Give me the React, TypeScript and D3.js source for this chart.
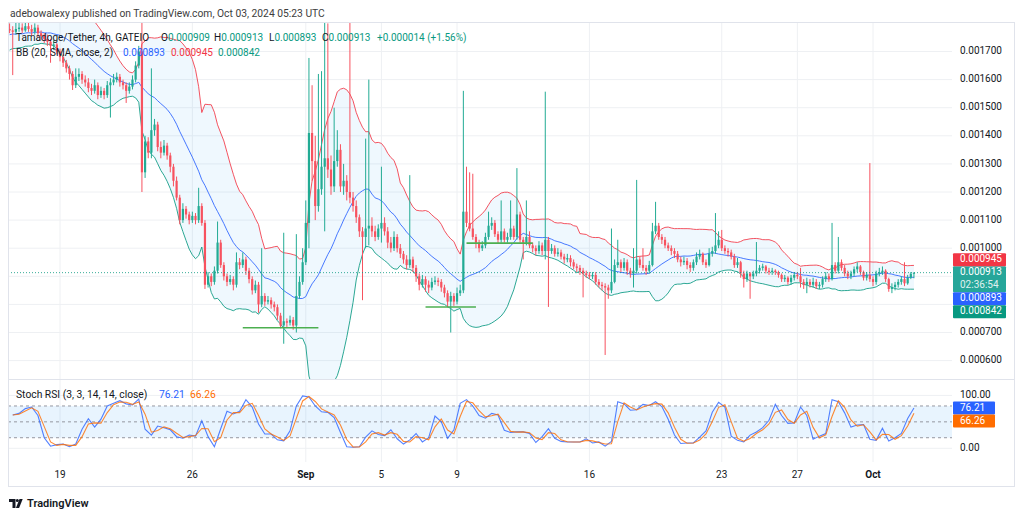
import * as React from "react"
import * as d3 from "d3"

// prices are stored in units of 0.000001 USDT
const START = Date.UTC(2024, 7, 16, 8)
const BAR_MS = 4 * 3600 * 1000

const firstOpen = 1780
// closes before the first visible bar, only used to seed the 20 bar bands
const warmupCloses = [1720, 1790, 1740, 1800, 1730, 1760, 1795, 1725, 1770, 1735, 1800, 1745, 1720, 1785, 1760, 1730, 1790, 1750, 1775]

const closes = [
  1775, 1770, 1780, 1785, 1775, 1790, 1780, 1770, 1785, 1765, 1755, 1745, 1735, 1720, 1725, 1700, 1680, 1660, 1640, 1620,
  1580, 1610, 1620, 1600, 1590, 1570, 1560, 1580, 1545, 1560, 1545, 1580, 1590, 1600, 1610, 1590, 1580, 1560, 1575, 1600,
  1650, 1700, 1270, 1380, 1340, 1420, 1440, 1360, 1340, 1365, 1330, 1290, 1240, 1180, 1100, 1140, 1120, 1100, 1115, 1100,
  1150, 1090, 870, 900, 880, 920, 1020, 940, 900, 880, 890, 870, 950, 940, 960, 920, 890, 850, 870, 800,
  830, 810, 815, 800, 790, 760, 725, 740, 735, 745, 725, 830, 880, 950, 1090, 1410, 1310, 1150, 1210, 1290,
  1320, 1280, 1220, 1310, 1350, 1220, 1240, 1200, 1180, 1150, 1110, 1060, 1040, 1070, 1080, 1060, 1040, 1070, 1090, 1060,
  1020, 1000, 1040, 1000, 980, 960, 940, 960, 930, 900, 870, 890, 870, 860, 880, 885, 880, 860, 840, 810,
  830, 810, 840, 850, 1130, 1090, 1070, 1040, 1020, 1000, 1010, 1040, 1080, 1090, 1050, 1030, 1060, 1030, 1040, 1070,
  1040, 1120, 1030, 1020, 1040, 1010, 1000, 990, 1010, 990, 1030, 990, 1000, 980, 985, 970, 960, 965, 950, 935,
  930, 920, 910, 905, 900, 905, 880, 870, 865, 860, 850, 880, 940, 950, 930, 950, 920, 910, 920, 960,
  940, 930, 920, 940, 1060, 1080, 1040, 1030, 1010, 1000, 990, 980, 960, 950, 955, 940, 930, 950, 970, 980,
  950, 940, 980, 990, 1010, 1030, 1000, 990, 985, 970, 940, 950, 910, 890, 910, 900, 910, 920, 930, 935,
  920, 915, 920, 915, 905, 890, 895, 880, 895, 905, 900, 880, 870, 880, 870, 880, 865, 870, 890, 900,
  890, 940, 920, 950, 930, 910, 900, 910, 925, 935, 915, 895, 905, 890, 880, 910, 915, 920, 890, 855,
  862, 870, 880, 890, 875, 895, 909, 913,
]

const highs = [
  1800, 1790, 1805, 1810, 1800, 1815, 1810, 1795, 1800, 1795, 1775, 1765, 1760, 1745, 1740, 1730, 1710, 1690, 1670, 1650,
  1630, 1640, 1640, 1630, 1615, 1605, 1585, 1600, 1590, 1575, 1570, 1595, 1605, 1620, 1625, 1620, 1600, 1590, 1590, 1615,
  1665, 1720, 1810, 1400, 1395, 1640, 1460, 1450, 1380, 1385, 1375, 1340, 1300, 1255, 1190, 1160, 1150, 1130, 1130, 1125,
  1215, 1160, 1100, 915, 910, 935, 1095, 1030, 950, 910, 905, 900, 985, 965, 985, 970, 930, 900, 885, 880,
  1000, 840, 830, 825, 810, 800, 770, 1055, 750, 760, 755, 1050, 900, 1000, 1170, 1677, 1580, 1400, 1620, 1630,
  1810, 1800, 1330, 1500, 1420, 1370, 1300, 1260, 1820, 1200, 1170, 1120, 1075, 1390, 1600, 1110, 1080, 1085, 1290, 1110,
  1075, 1040, 1060, 1050, 1015, 990, 975, 1260, 970, 940, 910, 905, 900, 885, 895, 900, 895, 890, 870, 850,
  845, 840, 860, 870, 1560, 1290, 1270, 1265, 1050, 1030, 1025, 1055, 1130, 1110, 1100, 1060, 1170, 1070, 1055, 1170,
  1080, 1285, 1130, 1040, 1170, 1060, 1020, 1010, 1025, 1020, 1557, 1040, 1015, 1010, 1000, 995, 980, 980, 975, 960,
  945, 940, 930, 920, 915, 915, 915, 890, 880, 875, 870, 1070, 960, 1030, 960, 965, 960, 930, 1000, 1243,
  970, 1000, 940, 955, 1090, 1165, 1090, 1050, 1040, 1020, 1010, 1000, 990, 970, 970, 965, 950, 960, 985, 995,
  985, 960, 1000, 1005, 1125, 1060, 1065, 1010, 1000, 995, 980, 965, 955, 920, 920, 915, 920, 1022, 940, 945,
  940, 930, 930, 925, 920, 910, 905, 900, 905, 915, 915, 930, 890, 895, 890, 895, 890, 880, 900, 915,
  910, 1090, 950, 1040, 960, 940, 920, 920, 935, 950, 940, 920, 915, 1303, 900, 920, 930, 935, 925, 895,
  875, 880, 890, 900, 950, 905, 915, 913,
]

const lows = [
  1765, 1616, 1760, 1770, 1765, 1770, 1770, 1755, 1760, 1750, 1740, 1730, 1720, 1660, 1705, 1690, 1665, 1645, 1625, 1600,
  1563, 1570, 1595, 1585, 1575, 1555, 1545, 1550, 1530, 1535, 1530, 1535, 1465, 1580, 1590, 1575, 1565, 1517, 1550, 1565,
  1590, 1640, 1200, 1250, 1320, 1320, 1400, 1345, 1320, 1330, 1315, 1270, 1220, 1170, 1085, 1090, 1105, 1085, 1090, 1085,
  1090, 1080, 855, 860, 865, 870, 910, 930, 885, 865, 870, 850, 860, 925, 930, 905, 875, 835, 840, 770,
  790, 795, 800, 785, 775, 745, 715, 660, 720, 725, 710, 700, 820, 870, 940, 1000, 1240, 1100, 1130, 1190,
  1060, 1250, 1190, 1200, 1290, 1200, 1190, 1170, 1160, 1130, 1090, 1040, 815, 1000, 1010, 1040, 1025, 1030, 1020, 1045,
  1000, 985, 990, 985, 965, 945, 925, 930, 915, 880, 850, 860, 845, 840, 850, 870, 865, 845, 825, 790,
  700, 795, 800, 830, 840, 1075, 1060, 1030, 1000, 985, 990, 1000, 1030, 1065, 1040, 1015, 1020, 1020, 1020, 1030,
  1030, 1030, 1020, 960, 1010, 1000, 985, 975, 980, 975, 960, 791, 980, 970, 970, 960, 945, 950, 935, 925,
  915, 905, 825, 895, 890, 890, 870, 860, 850, 620, 820, 840, 875, 930, 915, 920, 905, 895, 860, 910,
  930, 920, 905, 910, 935, 1050, 1030, 1015, 1000, 990, 975, 965, 950, 935, 940, 925, 915, 920, 940, 960,
  940, 930, 935, 970, 980, 1000, 990, 980, 970, 960, 930, 930, 895, 860, 880, 820, 890, 900, 910, 920,
  910, 905, 905, 905, 895, 880, 880, 870, 870, 885, 890, 860, 855, 840, 860, 860, 855, 855, 860, 880,
  880, 885, 910, 910, 920, 900, 890, 890, 900, 915, 905, 885, 885, 880, 865, 870, 900, 905, 880, 845,
  840, 850, 860, 870, 865, 870, 890, 893,
]

// Stoch RSI %K, one value every second bar, the last one on the last bar
const stochK = [
  63, 66, 75, 78, 62, 20, 4, 7, 8, 3, 8, 36, 56, 40, 55, 80, 85, 90, 84, 82,
  93, 36, 25, 42, 39, 35, 22, 19, 25, 23, 52, 22, 3, 37, 70, 65, 70, 92, 78, 46,
  27, 27, 16, 14, 33, 80, 99, 97, 80, 69, 68, 58, 30, 3, 2, 3, 21, 33, 26, 24,
  35, 18, 8, 16, 28, 12, 20, 61, 50, 19, 35, 85, 92, 80, 62, 57, 66, 63, 34, 30,
  31, 31, 28, 11, 22, 37, 19, 13, 12, 12, 12, 18, 10, 12, 4, 13, 88, 84, 72, 73,
  83, 81, 88, 79, 55, 25, 9, 10, 10, 21, 33, 68, 87, 78, 23, 15, 12, 25, 31, 39,
  53, 83, 62, 47, 48, 78, 62, 17, 23, 28, 92, 88, 67, 40, 44, 45, 17, 15, 38, 14,
  20, 28, 56.31, 76.21,
]

const priceTicks = [600, 700, 800, 900, 1000, 1100, 1200, 1300, 1400, 1500, 1600, 1700]
const dateTicks: [number, string, boolean][] = [
  [Date.UTC(2024, 7, 19), "19", false],
  [Date.UTC(2024, 7, 26), "26", false],
  [Date.UTC(2024, 8, 1), "Sep", true],
  [Date.UTC(2024, 8, 5), "5", false],
  [Date.UTC(2024, 8, 9), "9", false],
  [Date.UTC(2024, 8, 16), "16", false],
  [Date.UTC(2024, 8, 23), "23", false],
  [Date.UTC(2024, 8, 27), "27", false],
  [Date.UTC(2024, 9, 1), "Oct", true],
]

// horizontal lines drawn by the author: [first bar, last bar, price]
const levelLines: [number, number, number][] = [
  [74, 98, 717],
  [132, 148, 791],
  [145, 166, 1018],
]

const header = "adebowalexy published on TradingView.com, Oct 03, 2024 05:23 UTC"
const FONT = "Roboto, 'Noto Sans', sans-serif"
const UP = "#22ab94"
const DOWN = "#f7525f"
const BLUE = "#2962ff"
const RED = "#f23645"
const TEAL = "#089981"
const ORANGE = "#ff6d00"

const fmt = (v: number) => (v / 1e6).toFixed(6)

export default function App() {
  const left = 8
  const right = 1015
  const plotRight = 952
  const top = 22
  const mainBottom = 379
  const stochBottom = 462
  const bottom = 487

  const x = d3
    .scaleUtc()
    .domain([new Date(Date.UTC(2024, 7, 19)), new Date(Date.UTC(2024, 9, 1))])
    .range([60, 873])
  const y = d3.scaleLinear().domain([600, 1700]).range([360.6, 51.5])
  const ys = d3.scaleLinear().domain([0, 100]).range([448.3, 395.4])

  const barX = (i: number) => x(new Date(START + i * BAR_MS))

  const bars = closes.map((c, i) => ({
    i,
    o: i === 0 ? firstOpen : closes[i - 1],
    h: highs[i],
    l: lows[i],
    c,
  }))

  const allCloses = [...warmupCloses, ...closes]
  const bands = closes.map((_c, i) => {
    const win = allCloses.slice(i, i + 20)
    const mean = d3.mean(win) as number
    const sd = Math.sqrt(d3.mean(win, (v) => (v - mean) ** 2) as number)
    return { i, basis: mean, upper: mean + 2 * sd, lower: mean - 2 * sd }
  })

  const bandArea = d3
    .area<(typeof bands)[0]>()
    .x((d) => barX(d.i))
    .y0((d) => y(d.lower))
    .y1((d) => y(d.upper))
  const bandLine = (key: "basis" | "upper" | "lower") =>
    d3
      .line<(typeof bands)[0]>()
      .x((d) => barX(d.i))
      .y((d) => y(d[key]))(bands) as string

  // %D: average of the last two 8h samples (about the 3 bar SMA of %K)
  const stoch = stochK.map((k, j) => ({
    i: 2 * j + 1,
    k,
    d: j === 0 ? k : (stochK[j - 1] + k) / 2,
  }))
  const kLine = d3
    .line<(typeof stoch)[0]>()
    .x((d) => barX(d.i))
    .y((d) => ys(d.k))(stoch) as string
  const dLine = d3
    .line<(typeof stoch)[0]>()
    .x((d) => barX(d.i))
    .y((d) => ys(d.d))(stoch) as string

  const last = bars[bars.length - 1]
  const lastBand = bands[bands.length - 1]
  const lastK = stoch[stoch.length - 1]

  // right axis price labels, stacked around the current price label
  const boxH = 13
  const curY = y(last.c)
  const curTop = curY - boxH / 2
  const curBottom = curTop + boxH * 2
  const above = [{ v: lastBand.upper, label: "0.000945", fill: RED }]
  const below = [
    { v: lastBand.basis, label: "0.000893", fill: BLUE },
    { v: lastBand.lower, label: "0.000842", fill: TEAL },
  ]
  const boxes: { cy: number; label: string; fill: string }[] = []
  let edge = curTop
  above.forEach((b) => {
    const cy = Math.min(y(b.v), edge - boxH / 2)
    boxes.push({ cy, label: b.label, fill: b.fill })
    edge = cy - boxH / 2
  })
  const boxTop = edge
  edge = curBottom
  below.forEach((b) => {
    const cy = Math.max(y(b.v), edge + boxH / 2)
    boxes.push({ cy, label: b.label, fill: b.fill })
    edge = cy + boxH / 2
  })
  const boxBottom = edge
  // tick labels hidden behind the price boxes
  const visibleTicks = priceTicks.filter((p) => y(p) < boxTop - 1 || y(p) > boxBottom + 5)

  const kY = ys(lastK.k)
  const dY = Math.max(ys(lastK.d), kY + boxH)

  const bw = 2.2

  return (
    <svg
      width={1024}
      height={517}
      style={{ position: "absolute", left: 0, top: 0, background: "#fff" }}
      fontFamily={FONT}
    >
      <defs>
        <clipPath id="mainClip">
          <rect x={left} y={top} width={plotRight - left} height={mainBottom - top} />
        </clipPath>
        <clipPath id="stochClip">
          <rect x={left} y={mainBottom + 1} width={plotRight - left} height={stochBottom - mainBottom - 1} />
        </clipPath>
      </defs>
      <rect width={1024} height={517} fill="#fff" />

      <text x={10} y={17} fontSize={10.3} fill="#3d3d3d">
        {header}
      </text>

      {/* grid */}
      {priceTicks.map((p) => (
        <line key={p} x1={left} x2={plotRight} y1={y(p)} y2={y(p)} stroke="#eef0f3" />
      ))}
      {[0, 100].map((v) => (
        <line key={v} x1={left} x2={plotRight} y1={ys(v)} y2={ys(v)} stroke="#eef0f3" />
      ))}
      {dateTicks.map(([t]) => (
        <line key={t} x1={x(new Date(t))} x2={x(new Date(t))} y1={top} y2={stochBottom} stroke="#eef0f3" />
      ))}

      {/* main pane */}
      <g clipPath="url(#mainClip)">
        <path d={bandArea(bands) as string} fill="rgba(33,150,243,0.07)" />
        <path d={bandLine("upper")} fill="none" stroke={RED} strokeWidth={1} opacity={0.85} />
        <path d={bandLine("lower")} fill="none" stroke={TEAL} strokeWidth={1} opacity={0.85} />
        <path d={bandLine("basis")} fill="none" stroke={BLUE} strokeWidth={1} opacity={0.85} />
        {bars.map((b) => {
          const cx = barX(b.i)
          const col = b.c >= b.o ? UP : DOWN
          const yTop = y(Math.max(b.o, b.c))
          const hgt = Math.max(1, Math.abs(y(b.o) - y(b.c)))
          return (
            <g key={b.i}>
              <line x1={cx} x2={cx} y1={y(b.h)} y2={y(b.l)} stroke={col} strokeWidth={1} />
              <rect x={cx - bw / 2} y={yTop} width={bw} height={hgt} fill={col} />
            </g>
          )
        })}
        {levelLines.map(([a, b, p], k) => (
          <line key={k} x1={barX(a)} x2={barX(b)} y1={y(p)} y2={y(p)} stroke="#4caf50" strokeWidth={1.6} />
        ))}
        <line x1={left} x2={plotRight} y1={curY} y2={curY} stroke={TEAL} strokeDasharray="1,2" opacity={0.8} />
      </g>

      {/* legend */}
      <g fontSize={10}>
        <text x={16} y={41} fill="#131722">Tamadoge/Tether, 4h, GATEIO</text>
        <text x={161} y={41} fill="#131722">O<tspan fill={TEAL}>{fmt(last.o)}</tspan></text>
        <text x={214} y={41} fill="#131722">H<tspan fill={TEAL}>{fmt(last.h)}</tspan></text>
        <text x={269} y={41} fill="#131722">L<tspan fill={TEAL}>{fmt(last.l)}</tspan></text>
        <text x={322} y={41} fill="#131722">C<tspan fill={TEAL}>{fmt(last.c)}</tspan></text>
        <text x={377} y={41} fill={TEAL}>+0.000014 (+1.56%)</text>
        <text x={16} y={56} fill="#131722">BB (20, SMA, close, 2)</text>
        <text x={123} y={56} fill={BLUE}>0.000893</text>
        <text x={171} y={56} fill={RED}>0.000945</text>
        <text x={218} y={56} fill={TEAL}>0.000842</text>
      </g>

      {/* price axis */}
      <g fontSize={10} fill="#131722">
        {visibleTicks.map((p) => (
          <text key={p} x={960} y={y(p)} dominantBaseline="middle">
            {fmt(p)}
          </text>
        ))}
        <rect x={953} y={curTop} width={53} height={boxH * 2} fill="#26a69a" rx={1} />
        <text x={960} y={curY} dominantBaseline="middle" fill="#fff">
          {fmt(last.c)}
        </text>
        <text x={960} y={curY + boxH} dominantBaseline="middle" fill="#fff" opacity={0.85}>
          02:36:54
        </text>
        {boxes.map((b) => (
          <g key={b.label}>
            <rect x={953} y={b.cy - boxH / 2} width={53} height={boxH} fill={b.fill} rx={1} />
            <text x={960} y={b.cy} dominantBaseline="middle" fill="#fff">
              {b.label}
            </text>
          </g>
        ))}
      </g>

      {/* pane separator */}
      <line x1={left} x2={right} y1={mainBottom + 0.5} y2={mainBottom + 0.5} stroke="#e0e3eb" />

      {/* stoch RSI pane */}
      <g clipPath="url(#stochClip)">
        <rect x={left} y={ys(80)} width={plotRight - left} height={ys(20) - ys(80)} fill="rgba(33,150,243,0.1)" />
        {[80, 50, 20].map((v) => (
          <line key={v} x1={left} x2={plotRight} y1={ys(v)} y2={ys(v)} stroke="#9598a1" strokeDasharray="3,3" />
        ))}
        <path d={kLine} fill="none" stroke={BLUE} strokeWidth={1.1} opacity={0.8} />
        <path d={dLine} fill="none" stroke={ORANGE} strokeWidth={1.1} opacity={0.8} />
      </g>
      <g fontSize={10.3}>
        <text x={16} y={398} fill="#131722">Stoch RSI (3, 3, 14, 14, close)</text>
        <text x={159} y={398} fill={BLUE}>{lastK.k.toFixed(2)}</text>
        <text x={190} y={398} fill={ORANGE}>{lastK.d.toFixed(2)}</text>
      </g>
      <g fontSize={10}>
        <text x={960} y={ys(100)} dominantBaseline="middle" fill="#131722">100.00</text>
        <text x={960} y={ys(0)} dominantBaseline="middle" fill="#131722">0.00</text>
        <rect x={953} y={kY - boxH / 2} width={42} height={boxH} fill={BLUE} rx={1} />
        <text x={960} y={kY} dominantBaseline="middle" fill="#fff">{lastK.k.toFixed(2)}</text>
        <rect x={953} y={dY - boxH / 2} width={42} height={boxH} fill={ORANGE} rx={1} />
        <text x={960} y={dY} dominantBaseline="middle" fill="#fff">{lastK.d.toFixed(2)}</text>
      </g>

      {/* time axis */}
      <g fontSize={10} fill="#131722" textAnchor="middle">
        {dateTicks.map(([t, label, bold]) => (
          <text key={t} x={x(new Date(t))} y={475} dominantBaseline="middle" fontWeight={bold ? 700 : 400}>
            {label}
          </text>
        ))}
      </g>

      {/* frame */}
      <rect x={left + 0.5} y={top + 0.5} width={right - left - 1} height={bottom - top - 1} fill="none" stroke="#e0e3eb" />

      {/* footer logo */}
      <g fill="#131722">
        <path d="M9 499h6.5v9h-3v-6H9z" />
        <circle cx={17.3} cy={500.6} r={1.5} />
        <path d="M19.5 499h3.2l-3.6 9h-3.2z" />
        <text x={27} y={507} fontSize={11} fontWeight={600}>TradingView</text>
      </g>
    </svg>
  )
}
